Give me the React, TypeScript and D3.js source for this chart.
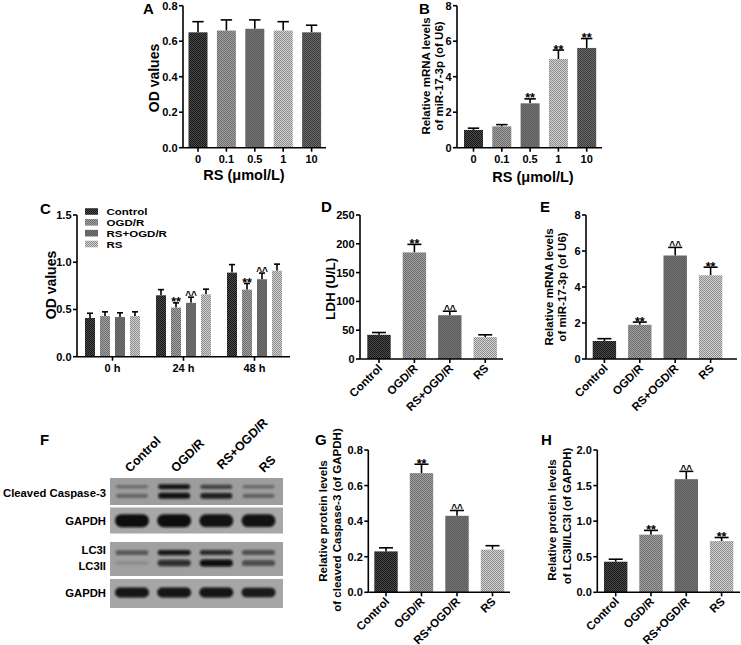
import React from 'react';
import * as d3 from 'd3';

const FONT = '"Liberation Sans", Arial, Helvetica, sans-serif';

// ---------- Panel A / B ----------
const doses = ['0', '0.1', '0.5', '1', '10'];
const odMeansA = [0.65, 0.66, 0.67, 0.66, 0.65];
const odErrA = [0.06, 0.06, 0.05, 0.05, 0.04];
const odSigA = ['', '', '', '', ''];
const mirMeansB = [1.0, 1.2, 2.5, 5.0, 5.62];
const mirErrB = [0.1, 0.1, 0.25, 0.5, 0.53];
const mirSigB = ['', '', '**', '**', '**'];

// ---------- Panel C ----------
const groups = ['Control', 'OGD/R', 'RS+OGD/R', 'RS'];
const times = ['0 h', '24 h', '48 h'];
const cControl = [0.41, 0.65, 0.89];
const cControlErr = [0.05, 0.06, 0.085];
const cOGD = [0.43, 0.52, 0.71];
const cOGDErr = [0.045, 0.05, 0.065];
const cRSOGD = [0.42, 0.57, 0.82];
const cRSOGDErr = [0.045, 0.06, 0.065];
const cRS = [0.43, 0.66, 0.91];
const cRSErr = [0.045, 0.055, 0.07];
const cControlSig = ['', '', ''];
const cOGDSig = ['', '**', '**'];
const cRSOGDSig = ['', '^^', '^^'];
const cRSSig = ['', '', ''];

// ---------- Panel D ----------
const ldhMeans = [42, 185, 76, 38];
const ldhErr = [4, 14, 7, 4];
const ldhSig = ['', '**', '^^', ''];

// ---------- Panel E ----------
const mirMeansE = [1.0, 1.9, 5.75, 4.65];
const mirErrE = [0.13, 0.15, 0.45, 0.45];
const mirSigE = ['', '**', '^^', '**'];

// ---------- Panel G ----------
const casMeans = [0.23, 0.67, 0.43, 0.24];
const casErr = [0.02, 0.05, 0.03, 0.022];
const casSig = ['', '**', '^^', ''];

// ---------- Panel H ----------
const lc3Means = [0.43, 0.81, 1.59, 0.72];
const lc3Err = [0.035, 0.06, 0.11, 0.05];
const lc3Sig = ['', '**', '^^', '**'];

// ---------- Panel F (western blot band intensities) ----------
const casp3Upper = [0.3, 0.95, 0.65, 0.32];
const casp3Lower = [0.35, 0.97, 0.88, 0.38];
const gapdh1 = [1, 1, 0.97, 0.97];
const lc3I = [0.55, 0.92, 0.8, 0.6];
const lc3II = [0.12, 0.78, 1.0, 0.6];
const gapdh2 = [0.95, 0.95, 0.95, 0.92];

const fillsDose = ['pDark', 'pMid', 'pMidDark', 'pLight', 'pDark2'];
const fillsGroup = ['pDark', 'pMid', 'pMidDark', 'pLight'];

function Patterns() {
  const defs = [
    { id: 'pDark', a: '#161616', b: '#4c4c4c' },
    { id: 'pMid', a: '#6c6c6c', b: '#a2a2a2' },
    { id: 'pMidDark', a: '#5c5c5c', b: '#727272' },
    { id: 'pLight', a: '#8c8c8c', b: '#d2d2d2' },
    { id: 'pDark2', a: '#3c3c3c', b: '#6a6a6a' },
  ];
  return (
    <defs>
      {defs.map((d) => (
        <pattern key={d.id} id={d.id} width={2} height={2} patternUnits="userSpaceOnUse">
          <rect width={2} height={2} fill={d.b} />
          <rect width={1} height={1} fill={d.a} />
          <rect x={1} y={1} width={1} height={1} fill={d.a} />
        </pattern>
      ))}
      <filter id="blur" x="-20%" y="-50%" width="140%" height="200%">
        <feGaussianBlur stdDeviation={1.1} />
      </filter>
    </defs>
  );
}

function Sig({ x, y, s }: { x: number; y: number; s: string }) {
  if (!s) return null;
  const star = s === '**';
  return (
    <text x={x} y={star ? y + 3.5 : y + 1.5} textAnchor="middle" fontSize={star ? 12.5 : 10} fontWeight="bold">
      {s}
    </text>
  );
}

function ErrBar({ cx, top, et, cw }: any) {
  return (
    <g stroke="#000" strokeWidth={1.6}>
      <line x1={cx} x2={cx} y1={top} y2={et} />
      <line x1={cx - cw / 2} x2={cx + cw / 2} y1={et} y2={et} />
    </g>
  );
}

function YAxis({ x, y, ticks, fmt }: any) {
  const f = d3.format(fmt);
  return (
    <g>
      <line x1={x} x2={x} y1={y(ticks[ticks.length - 1])} y2={y(0)} stroke="#000" strokeWidth={1.6} />
      {ticks.map((t: number) => (
        <g key={t}>
          <line x1={x - 4} x2={x} y1={y(t)} y2={y(t)} stroke="#000" strokeWidth={1.6} />
          <text x={x - 5.5} y={y(t)} dy="0.36em" textAnchor="end" fontSize={11} fontWeight="bold">
            {f(t)}
          </text>
        </g>
      ))}
    </g>
  );
}

function BarPanel(p: any) {
  const n = p.cats.length;
  const pi = 1 - p.bw / p.step;
  const po = (p.bandStart - p.axisX) / p.step;
  const x = d3
    .scaleBand()
    .domain(p.cats)
    .range([p.axisX, p.axisX + p.step * (n - pi + 2 * po)])
    .paddingInner(pi)
    .paddingOuter(po);
  const y = d3.scaleLinear().domain([0, p.max]).range([p.y0, p.y1]);
  const ticks = d3.range(0, p.max + p.tickStep / 2, p.tickStep);
  const bw = x.bandwidth();
  return (
    <g>
      {p.cats.map((c: string, i: number) => {
        const bx = x(c) as number;
        const cx = bx + bw / 2;
        const top = y(p.means[i]);
        const et = y(p.means[i] + p.errs[i]);
        return (
          <g key={c}>
            <ErrBar cx={cx} top={top} et={et} cw={bw * 0.6} />
            <rect x={bx} y={top} width={bw} height={p.y0 - top} fill={`url(#${p.fills[i]})`} />
            <Sig x={cx} y={et} s={p.sig[i]} />
            <line x1={cx} x2={cx} y1={p.y0} y2={p.y0 + 4} stroke="#000" strokeWidth={1.6} />
            {p.rotated ? (
              <text
                transform={`translate(${cx + 4},${p.y0 + 10}) rotate(-45)`}
                textAnchor="end"
                fontSize={11.5}
                fontWeight="bold"
              >
                {c}
              </text>
            ) : (
              <text x={cx} y={p.y0 + 15.5} textAnchor="middle" fontSize={11} fontWeight="bold">
                {c}
              </text>
            )}
          </g>
        );
      })}
      <line x1={p.axisX} x2={p.axisEnd} y1={p.y0} y2={p.y0} stroke="#000" strokeWidth={1.6} />
      <YAxis x={p.axisX} y={y} ticks={ticks} fmt={p.fmt} />
    </g>
  );
}

function PanelC() {
  const axisX = 77;
  const axisEnd = 290;
  const y0 = 356.7;
  const y = d3.scaleLinear().domain([0, 1.5]).range([y0, 215]);
  const xo = d3.scaleBand().domain(times).range([axisX, axisEnd]);
  const series = [
    { m: cControl, e: cControlErr, s: cControlSig },
    { m: cOGD, e: cOGDErr, s: cOGDSig },
    { m: cRSOGD, e: cRSOGDErr, s: cRSOGDSig },
    { m: cRS, e: cRSErr, s: cRSSig },
  ];
  const ticks = d3.range(0, 1.5 + 0.25, 0.5);
  const legendY = d3.scalePoint().domain(groups).range([211.5, 244]);
  return (
    <g>
      {times.map((t, ti) => {
        const c = (xo(t) as number) + xo.bandwidth() / 2;
        const xi = d3.scaleBand().domain(groups).range([c - 30, c + 30]).paddingInner(1 / 3).paddingOuter(1 / 6);
        const bw = xi.bandwidth();
        return (
          <g key={t}>
            {groups.map((g, gi) => {
              const bx = xi(g) as number;
              const cx = bx + bw / 2;
              const top = y(series[gi].m[ti]);
              const et = y(series[gi].m[ti] + series[gi].e[ti]);
              return (
                <g key={g}>
                  <ErrBar cx={cx} top={top} et={et} cw={6} />
                  <rect x={bx} y={top} width={bw} height={y0 - top} fill={`url(#${fillsGroup[gi]})`} />
                  <Sig x={cx} y={et} s={series[gi].s[ti]} />
                </g>
              );
            })}
            <line x1={c} x2={c} y1={y0} y2={y0 + 4} stroke="#000" strokeWidth={1.6} />
            <text x={c} y={y0 + 15.5} textAnchor="middle" fontSize={11} fontWeight="bold">
              {t}
            </text>
          </g>
        );
      })}
      <line x1={axisX} x2={axisEnd} y1={y0} y2={y0} stroke="#000" strokeWidth={1.6} />
      <YAxis x={axisX} y={y} ticks={ticks} fmt=".1f" />
      {groups.map((g, gi) => (
        <g key={g}>
          <rect x={85} y={(legendY(g) as number) - 3.3} width={13} height={6.6} fill={`url(#${fillsGroup[gi]})`} />
          <text
            transform={`translate(106.5,${(legendY(g) as number) + 3.6}) scale(1.2,1)`}
            fontSize={9.6}
            fontWeight="bold"
          >
            {g}
          </text>
        </g>
      ))}
    </g>
  );
}

function Blot() {
  const lane = d3.scalePoint().domain(groups).range([132, 258.5]);
  const boxX0 = 110;
  const boxX1 = 283;
  const boxes = [
    { y: 478, h: 27, fill: '#9d9d9d' },
    { y: 507.5, h: 26, fill: '#a8a8a8' },
    { y: 542, h: 34, fill: '#a0a0a0' },
    { y: 579, h: 29, fill: '#a6a6a6' },
  ];
  const rows = [
    { vals: casp3Upper, y: 486.8, h: 5, w: 32 },
    { vals: casp3Lower, y: 495.8, h: 6, w: 32 },
    { vals: gapdh1, y: 520.7, h: 13, w: 34 },
    { vals: lc3I, y: 552.6, h: 5.5, w: 33 },
    { vals: lc3II, y: 563, h: 7, w: 33 },
    { vals: gapdh2, y: 592.5, h: 10, w: 34 },
  ];
  const labels = [
    { t: 'Cleaved Caspase-3', y: 496.5 },
    { t: 'GAPDH', y: 525 },
    { t: 'LC3I', y: 553.5 },
    { t: 'LC3II', y: 569.5 },
    { t: 'GAPDH', y: 597 },
  ];
  const laneLabelPos = [
    [130, 473],
    [176, 473],
    [222, 470],
    [264, 473],
  ];
  return (
    <g>
      {boxes.map((b, i) => (
        <rect key={i} x={boxX0} y={b.y} width={boxX1 - boxX0} height={b.h} fill={b.fill} />
      ))}
      <g filter="url(#blur)">
        {rows.map((r, ri) =>
          r.vals.map((v, li) => {
            const cx = lane(groups[li]) as number;
            const h = r.h * (0.55 + 0.45 * v);
            return (
              <rect
                key={ri + '-' + li}
                x={cx - r.w / 2}
                y={r.y - h / 2}
                width={r.w}
                height={h}
                rx={h / 2}
                fill="#0c0c0c"
                opacity={v}
              />
            );
          })
        )}
      </g>
      {labels.map((l, i) => (
        <text key={i} x={106} y={l.y} textAnchor="end" fontSize={11.3} fontWeight="bold">
          {l.t}
        </text>
      ))}
      {groups.map((g, i) => (
        <text
          key={g}
          transform={`translate(${laneLabelPos[i][0]},${laneLabelPos[i][1]}) rotate(-45)`}
          fontSize={12.5}
          fontWeight="bold"
        >
          {g}
        </text>
      ))}
    </g>
  );
}

function RotTitle({ x, y, t, size = 11.5 }: any) {
  return (
    <text transform={`translate(${x},${y}) rotate(-90)`} textAnchor="middle" fontSize={size} fontWeight="bold">
      {t}
    </text>
  );
}

function Letter({ x, y, t }: any) {
  return (
    <text x={x} y={y} fontSize={15} fontWeight="bold">
      {t}
    </text>
  );
}

export default function App() {
  return (
    <svg
      width={741}
      height={645}
      style={{ position: 'absolute', left: 0, top: 0, background: '#fff' }}
      fontFamily={FONT}
    >
      <Patterns />
      <rect width={741} height={645} fill="#fff" />

      {/* A */}
      <Letter x={143} y={13.5} t="A" />
      <BarPanel
        cats={doses}
        means={odMeansA}
        errs={odErrA}
        sig={odSigA}
        fills={fillsDose}
        axisX={183}
        axisEnd={326}
        y0={147.7}
        y1={5.7}
        max={0.8}
        tickStep={0.2}
        fmt=".1f"
        bandStart={188.5}
        step={28.4}
        bw={19}
      />
      <RotTitle x={159} y={78} t="OD values" size={14} />
      <text x={244} y={180} textAnchor="middle" fontSize={14.5} fontWeight="bold">
        RS (μmol/L)
      </text>

      {/* B */}
      <Letter x={419} y={13.5} t="B" />
      <BarPanel
        cats={doses}
        means={mirMeansB}
        errs={mirErrB}
        sig={mirSigB}
        fills={fillsDose}
        axisX={457}
        axisEnd={602}
        y0={147.7}
        y1={5.7}
        max={8}
        tickStep={2}
        fmt="d"
        bandStart={464}
        step={28.3}
        bw={19}
      />
      <RotTitle x={430} y={76} t="Relative mRNA levels" />
      <RotTitle x={443} y={76} t="of miR-17-3p (of U6)" />
      <text x={533} y={182} textAnchor="middle" fontSize={14.5} fontWeight="bold">
        RS (μmol/L)
      </text>

      {/* C */}
      <Letter x={40} y={213.5} t="C" />
      <PanelC />
      <RotTitle x={56} y={285} t="OD values" size={14} />

      {/* D */}
      <Letter x={321} y={212} t="D" />
      <BarPanel
        cats={groups}
        means={ldhMeans}
        errs={ldhErr}
        sig={ldhSig}
        fills={fillsGroup}
        axisX={360}
        axisEnd={503}
        y0={359}
        y1={215}
        max={250}
        tickStep={50}
        fmt="d"
        bandStart={367.3}
        step={35.4}
        bw={23.4}
        rotated
      />
      <RotTitle x={334.5} y={289} t="LDH (U/L)" size={13.5} />

      {/* E */}
      <Letter x={540} y={212} t="E" />
      <BarPanel
        cats={groups}
        means={mirMeansE}
        errs={mirErrE}
        sig={mirSigE}
        fills={fillsGroup}
        axisX={586}
        axisEnd={737}
        y0={359}
        y1={215}
        max={8}
        tickStep={2}
        fmt="d"
        bandStart={592.7}
        step={35.4}
        bw={23.4}
        rotated
      />
      <RotTitle x={553} y={287} t="Relative mRNA levels" />
      <RotTitle x={566} y={287} t="of miR-17-3p (of U6)" />

      {/* F */}
      <Letter x={40} y={444.5} t="F" />
      <Blot />

      {/* G */}
      <Letter x={315} y={445} t="G" />
      <BarPanel
        cats={groups}
        means={casMeans}
        errs={casErr}
        sig={casSig}
        fills={fillsGroup}
        axisX={368.3}
        axisEnd={510}
        y0={592.3}
        y1={450}
        max={0.8}
        tickStep={0.2}
        fmt=".1f"
        bandStart={374.3}
        step={35.5}
        bw={23.4}
        rotated
      />
      <RotTitle x={327} y={521} t="Relative protein levels" />
      <RotTitle x={341} y={520} t="of cleaved Caspase-3 (of GAPDH)" />

      {/* H */}
      <Letter x={541} y={445} t="H" />
      <BarPanel
        cats={groups}
        means={lc3Means}
        errs={lc3Err}
        sig={lc3Sig}
        fills={fillsGroup}
        axisX={597.3}
        axisEnd={740}
        y0={592.3}
        y1={450}
        max={2}
        tickStep={0.5}
        fmt=".1f"
        bandStart={604}
        step={35.3}
        bw={23.4}
        rotated
      />
      <RotTitle x={556} y={520} t="Relative protein levels" />
      <RotTitle x={571} y={516} t="of LC3II/LC3I (of GAPDH)" />
    </svg>
  );
}
